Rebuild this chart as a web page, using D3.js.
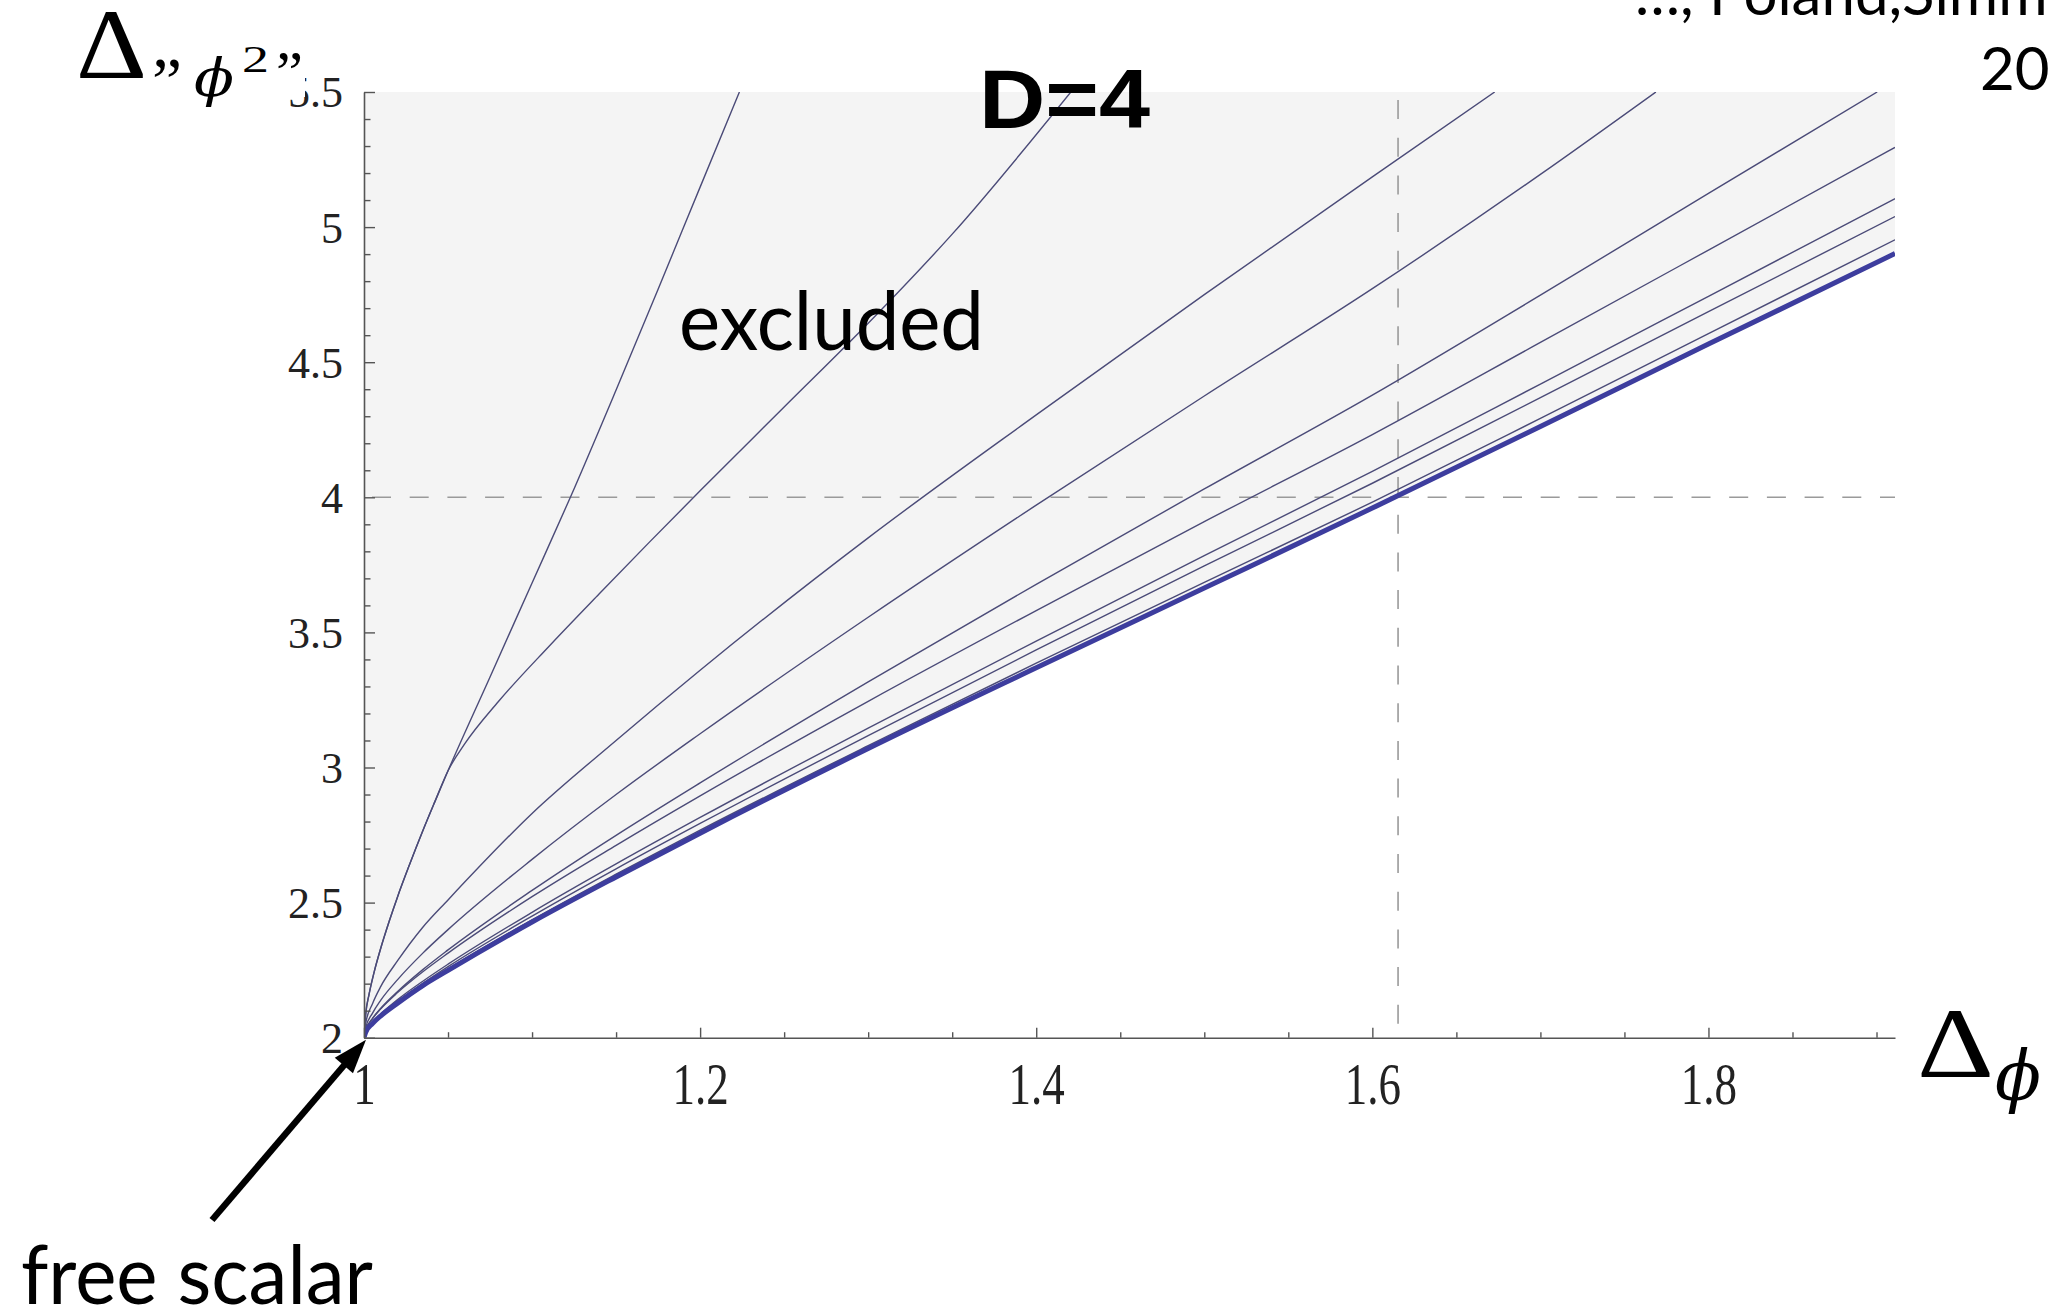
<!DOCTYPE html>
<html>
<head>
<meta charset="utf-8">
<script src="https://cdn.jsdelivr.net/npm/d3@7"></script>
<style>
body { margin: 0; background: #fff; }
svg { display: block; }
.tick line { stroke: #555; stroke-width: 1.4; }
.domain { stroke: #555; stroke-width: 1.6; }
</style>
</head>
<body>
<script>
// bounds on the dimension of phi^2 vs dimension of phi, D=4

// axis ranges and ticks
var xDomain = [1, 1.911],
    yDomain = [2, 5.5];
var xMajor = [1, 1.2, 1.4, 1.6, 1.8];
var xMinor = [1.05, 1.1, 1.15, 1.25, 1.3, 1.35, 1.45, 1.5, 1.55, 1.65, 1.7, 1.75, 1.85, 1.9];
var yMajor = [2, 2.5, 3, 3.5, 4, 4.5, 5, 5.5];
var yMinor = [2.1, 2.2, 2.3, 2.4, 2.6, 2.7, 2.8, 2.9, 3.1, 3.2, 3.3, 3.4, 3.6, 3.7, 3.8, 3.9,
              4.1, 4.2, 4.3, 4.4, 4.6, 4.7, 4.8, 4.9, 5.1, 5.2, 5.3, 5.4];
var dashX = 1.6153, dashY = 4;

// bound curves (x = dim phi, y = dim phi^2)
// A and B share their first stretch, then B bends away
var curveA = [[1,2],[1.001,2.086],[1.003,2.16],[1.006,2.242],[1.01,2.332],[1.015,2.431],[1.02,2.522],[1.027,2.639],[1.035,2.766],[1.042,2.871],[1.05,2.988],
              [1.075,3.335],[1.1,3.683],[1.1228,4.0],[1.15,4.397],[1.175,4.77],[1.2,5.148],[1.2234,5.5]];
var curveB = [[1,2],[1.001,2.086],[1.003,2.16],[1.006,2.242],[1.01,2.332],[1.015,2.431],[1.02,2.522],[1.027,2.639],[1.035,2.766],[1.042,2.871],[1.05,2.988],
              [1.06,3.088],[1.08,3.244],[1.11,3.448],[1.14,3.643],[1.17,3.835],[1.2,4.024],[1.25,4.334],[1.3,4.644],[1.35,4.974],[1.4206,5.5]];
var curveC = [[1,2],[1.001,2.053],[1.005,2.125],[1.01,2.19],[1.02,2.285],[1.035,2.409],[1.05,2.51],[1.1,2.83],[1.15,3.1],[1.2,3.36],[1.3,3.85],[1.4,4.305],[1.5,4.75],[1.6,5.186],[1.6728,5.5]];
var curveD = [[1,2],[1.001,2.037],[1.005,2.09],[1.01,2.139],[1.02,2.215],[1.035,2.313],[1.05,2.4],[1.1,2.66],[1.15,2.9],[1.2,3.125],[1.3,3.556],[1.4,3.971],[1.5,4.375],[1.6,4.772],[1.7,5.195],[1.7687,5.5]];
var curveE = [[1,2],[1.001,2.028],[1.005,2.071],[1.01,2.109],[1.02,2.171],[1.035,2.252],[1.05,2.325],[1.1,2.545],[1.15,2.749],[1.2,2.943],[1.3,3.317],[1.4,3.678],[1.5,4.031],[1.6,4.378],[1.7,4.748],[1.8,5.125],[1.9004,5.5]];
var curveF = [[1,2],[1.001,2.028],[1.005,2.07],[1.01,2.107],[1.02,2.167],[1.035,2.244],[1.05,2.313],[1.1,2.522],[1.15,2.712],[1.2,2.895],[1.3,3.245],[1.4,3.581],[1.5,3.91],[1.6,4.232],[1.7,4.573],[1.8,4.915],[1.911,5.295]];
var curveG = [[1,2],[1.001,2.022],[1.005,2.057],[1.01,2.088],[1.02,2.141],[1.035,2.209],[1.05,2.272],[1.1,2.464],[1.15,2.643],[1.2,2.815],[1.3,3.146],[1.4,3.468],[1.5,3.784],[1.6,4.096],[1.7,4.419],[1.8,4.744],[1.911,5.105]];
var curveH = [[1,2],[1.001,2.021],[1.005,2.054],[1.01,2.084],[1.02,2.135],[1.035,2.201],[1.05,2.263],[1.1,2.45],[1.15,2.625],[1.2,2.793],[1.3,3.118],[1.4,3.435],[1.5,3.746],[1.6,4.052],[1.7,4.369],[1.8,4.687],[1.911,5.039]];
var curveI = [[1,2],[1.001,2.0205],[1.005,2.053],[1.01,2.082],[1.02,2.131],[1.035,2.195],[1.05,2.254],[1.1,2.436],[1.15,2.605],[1.2,2.768],[1.3,3.081],[1.4,3.386],[1.5,3.685],[1.6,3.982],[1.7,4.292],[1.8,4.606],[1.911,4.953]];
// best bound (thick line)
var curveBest = [[1,2],[1.001,2.02],[1.005,2.052],[1.01,2.081],[1.02,2.128],[1.035,2.193],[1.05,2.249],[1.1,2.428],[1.15,2.595],[1.2,2.757],[1.3,3.07],[1.4,3.369],[1.5,3.664],[1.6,3.96],[1.7,4.262],[1.8,4.567],[1.911,4.902]];

var thinCurves = [curveA, curveB, curveC, curveD, curveE, curveF, curveG, curveH, curveI];

var width = 2050, height = 1315;

var svg = d3.select("body").append("svg")
    .attr("width", width)
    .attr("height", height);

var x = d3.scaleLinear().domain(xDomain).range([364, 1895]);
var y = d3.scaleLinear().domain(yDomain).range([1037.7, 92]);

//clip to plot frame
svg.append("clipPath").attr("id", "plotclip")
  .append("rect")
    .attr("x", x(xDomain[0]))
    .attr("y", y(yDomain[1]))
    .attr("width", x(xDomain[1]) - x(xDomain[0]))
    .attr("height", y(yDomain[0]) - y(yDomain[1]));

var plot = svg.append("g").attr("clip-path", "url(#plotclip)");

// excluded region above the best bound
var area = d3.area()
    .x(function(d){ return x(d[0]); })
    .y0(y(yDomain[1]))
    .y1(function(d){ return y(d[1]); })
    .curve(d3.curveMonotoneX);

plot.append("path")
    .datum(curveBest)
    .attr("d", area)
    .attr("fill", "#f4f4f4");

// dashed guide lines
plot.append("line")
    .attr("x1", x(xDomain[0])).attr("x2", x(xDomain[1]))
    .attr("y1", y(dashY)).attr("y2", y(dashY))
    .attr("stroke", "#9a9a9a").attr("stroke-width", 1.6)
    .attr("stroke-dasharray", "19,18.7")
    .attr("stroke-dashoffset", -8);

plot.append("line")
    .attr("x1", x(dashX)).attr("x2", x(dashX))
    .attr("y1", y(yDomain[1])).attr("y2", y(yDomain[0]))
    .attr("stroke", "#9a9a9a").attr("stroke-width", 1.6)
    .attr("stroke-dasharray", "19,18.7")
    .attr("stroke-dashoffset", -8);

var line = d3.line()
    .x(function(d){ return x(d[0]); })
    .y(function(d){ return y(d[1]); })
    .curve(d3.curveMonotoneX);

plot.selectAll(".bound")
    .data(thinCurves)
    .enter()
    .append("path")
    .attr("class", "bound")
    .attr("d", line)
    .attr("fill", "none")
    .attr("stroke", "#4b4b78")
    .attr("stroke-width", 1.4);

plot.append("path")
    .datum(curveBest)
    .attr("d", line)
    .attr("fill", "none")
    .attr("stroke", "#3d3d9e")
    .attr("stroke-width", 5);

// axes, ticks point inward
var xAxisMinor = svg.append("g")
    .attr("transform", "translate(0," + y(yDomain[0]) + ")")
    .call(d3.axisBottom(x).tickValues(xMinor).tickSize(-5.5).tickSizeOuter(0).tickFormat(""));
xAxisMinor.select(".domain").remove();

var xAxis = svg.append("g")
    .attr("transform", "translate(0," + y(yDomain[0]) + ")")
    .call(d3.axisBottom(x).tickValues(xMajor).tickSize(-10).tickSizeOuter(0).tickFormat(d3.format("")));

xAxis.selectAll(".tick text")
    .attr("y", null).attr("dy", null)
    .attr("transform", "translate(0,66) scale(1,1.33)")
    .attr("font-family", "'Liberation Serif', serif")
    .attr("font-size", 45)
    .attr("fill", "#222");

var yAxisMinor = svg.append("g")
    .attr("transform", "translate(" + x(xDomain[0]) + ",0)")
    .call(d3.axisLeft(y).tickValues(yMinor).tickSize(-6.5).tickSizeOuter(0).tickFormat(""));
yAxisMinor.select(".domain").remove();

var yAxis = svg.append("g")
    .attr("transform", "translate(" + x(xDomain[0]) + ",0)")
    .call(d3.axisLeft(y).tickValues(yMajor).tickSize(-11).tickSizeOuter(0).tickPadding(21).tickFormat(d3.format("")));

yAxis.selectAll(".tick text")
    .attr("dy", "0.34em")
    .attr("font-family", "'Liberation Serif', serif")
    .attr("font-size", 44)
    .attr("fill", "#222");

// y axis title, sits on a white patch that hides part of the top label
svg.append("rect")
    .attr("x", 55).attr("y", 0)
    .attr("width", 250).attr("height", 97)
    .attr("fill", "#fff");

var serif = "'Liberation Serif', 'DejaVu Serif', serif";

svg.append("text").attr("x", 76).attr("y", 78)
    .attr("font-family", serif).attr("font-size", 100)
    .attr("textLength", 71).attr("lengthAdjust", "spacingAndGlyphs")
    .text("Δ");
svg.append("text").attr("x", 152).attr("y", 104)
    .attr("font-family", serif).attr("font-size", 68)
    .attr("textLength", 30).attr("lengthAdjust", "spacingAndGlyphs")
    .text("”");
svg.append("text").attr("x", 194).attr("y", 96)
    .attr("font-family", "'DejaVu Serif', serif").attr("font-style", "italic").attr("font-size", 52)
    .attr("textLength", 40).attr("lengthAdjust", "spacingAndGlyphs")
    .text("ϕ");
svg.append("text").attr("x", 242).attr("y", 72)
    .attr("font-family", serif).attr("font-size", 37)
    .attr("textLength", 27).attr("lengthAdjust", "spacingAndGlyphs")
    .text("2");
svg.append("text").attr("x", 276).attr("y", 92)
    .attr("font-family", serif).attr("font-size", 60)
    .attr("textLength", 27).attr("lengthAdjust", "spacingAndGlyphs")
    .text("”");

// x axis title
svg.append("text").attr("x", 1917).attr("y", 1077)
    .attr("font-family", serif).attr("font-size", 100)
    .attr("textLength", 77).attr("lengthAdjust", "spacingAndGlyphs")
    .text("Δ");
svg.append("text").attr("x", 1995).attr("y", 1100)
    .attr("font-family", "'DejaVu Serif', serif").attr("font-style", "italic").attr("font-size", 70)
    .attr("textLength", 46).attr("lengthAdjust", "spacingAndGlyphs")
    .text("ϕ");

// annotations
svg.append("text").attr("x", 979).attr("y", 128)
    .attr("font-family", "'Liberation Sans', Arial, sans-serif")
    .attr("font-weight", "bold").attr("font-size", 84)
    .attr("textLength", 171).attr("lengthAdjust", "spacingAndGlyphs")
    .text("D=4");

svg.append("text").attr("x", 679).attr("y", 350)
    .attr("font-family", "Lato, sans-serif").attr("font-size", 82)
    .attr("textLength", 305).attr("lengthAdjust", "spacingAndGlyphs")
    .text("excluded");

svg.append("text").attr("x", 21).attr("y", 1304)
    .attr("font-family", "Lato, sans-serif").attr("font-size", 81)
    .attr("textLength", 352).attr("lengthAdjust", "spacingAndGlyphs")
    .text("free scalar");

svg.append("text").attr("x", 1635).attr("y", 15)
    .attr("font-family", "Lato, sans-serif").attr("font-size", 60)
    .text("…, Poland,Simmons-Duffin");
svg.append("text").attr("x", 1980).attr("y", 90)
    .attr("font-family", "Lato, sans-serif").attr("font-size", 60)
    .text("2010");

// arrow pointing at the free scalar point (1,2)
var tipX = x(1) + 2, tipY = y(2) + 2;
var ux = 0.651, uy = -0.759, headLen = 34, headW = 12;
var bx = tipX - headLen * ux, by = tipY - headLen * uy;
svg.append("line")
    .attr("x1", 212).attr("y1", 1220)
    .attr("x2", bx + 2 * ux).attr("y2", by + 2 * uy)
    .attr("stroke", "#000").attr("stroke-width", 6.5);
svg.append("polygon")
    .attr("points", [
        [tipX, tipY],
        [bx + headW * 0.759, by + headW * 0.651],
        [bx - headW * 0.759, by - headW * 0.651]
    ].map(function(p){ return p.join(","); }).join(" "))
    .attr("fill", "#000");
</script>
</body>
</html>
